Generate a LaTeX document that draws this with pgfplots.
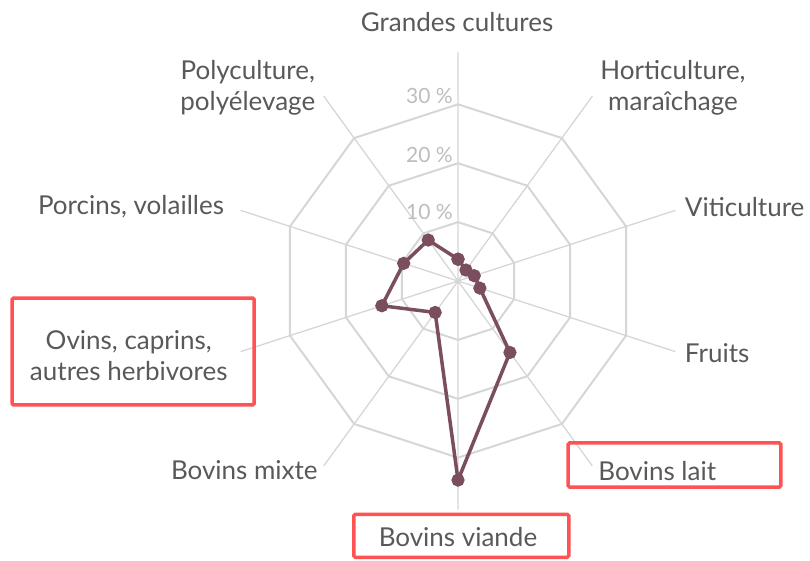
\documentclass[border=0pt]{standalone}
\usepackage{pgfplots}
\pgfplotsset{compat=1.18}
\usepackage{fontspec}
\setmainfont{Lato}
\definecolor{gridc}{HTML}{D6D6D6}
\definecolor{serc}{HTML}{7A4E5E}
\definecolor{labc}{HTML}{595959}
\definecolor{tickc}{HTML}{BDBDBD}
\definecolor{boxc}{HTML}{FF5252}
\begin{document}
\begin{tikzpicture}
\begin{axis}[
  x=5.89pt, y=5.89pt,
  xmin=-77.76, xmax=59.76, ymin=-47.37, ymax=47.71,
  hide axis, clip=false,
]
% spokes
\addplot[gridc, line width=1.3pt, data cs=polar] coordinates {
 (90,38.8) (0,0) (54,38.8) (0,0) (18,38.8) (0,0) (-18,38.8) (0,0) (-54,38.8) (0,0)
 (-90,38.8) (0,0) (-126,38.8) (0,0) (-162,38.8) (0,0) (162,38.8) (0,0) (126,38.8)};
% rings
\addplot[gridc, line width=2pt, data cs=polar] coordinates {
 (90,10) (54,10) (18,10) (-18,10) (-54,10) (-90,10) (-126,10) (-162,10) (162,10) (126,10) (90,10)};
\addplot[gridc, line width=2pt, data cs=polar] coordinates {
 (90,20) (54,20) (18,20) (-18,20) (-54,20) (-90,20) (-126,20) (-162,20) (162,20) (126,20) (90,20)};
\addplot[gridc, line width=2pt, data cs=polar] coordinates {
 (90,30) (54,30) (18,30) (-18,30) (-54,30) (-90,30) (-126,30) (-162,30) (162,30) (126,30) (90,30)};
% data
\addplot[serc, line width=3.5pt, mark=*, mark size=4.8pt, data cs=polar] coordinates {
 (90,3.7) (54,2.3) (18,2.9) (-18,3.9) (-54,15.0) (-90,33.8) (-126,6.6) (-162,13.6) (162,9.7) (126,8.6) (90,3.7)};
% tick labels
\begin{scope}[every node/.style={font=\fontsize{21}{23}\selectfont, text=tickc, anchor=east, inner sep=0pt}]
\node at (axis cs:-0.85,11.7) {10 \%};
\node at (axis cs:-0.85,21.4) {20 \%};
\node at (axis cs:-0.85,31.4) {30 \%};
\end{scope}
% category labels
\begin{scope}[every node/.style={font=\fontsize{26}{31}\selectfont, text=labc, inner sep=0pt, align=center}]
\node at (axis cs:-0.17,43.97) {Grandes cultures};
\node at (axis cs:36.5,32.8) {Horticulture,\\maraîchage};
\node[anchor=west] at (axis cs:38.5,12.6) {Viticulture};
\node[anchor=west] at (axis cs:38.5,-12.2) {Fruits};
\node[anchor=west] at (axis cs:23.8,-32.3) {Bovins lait};
\node at (axis cs:0,-43.5) {Bovins viande};
\node[anchor=east] at (axis cs:-23.8,-32.1) {Bovins mixte};
\node at (axis cs:-55.9,-12.6) {Ovins, caprins,\\autres herbivores};
\node[anchor=east] at (axis cs:-39.7,12.6) {Porcins, volailles};
\node at (axis cs:-35.7,32.8) {Polyculture,\\polyélevage};
\end{scope}
% highlight boxes
\draw[boxc, line width=3.5pt, rounded corners=1.5pt] (axis cs:-75.7,-2.9) rectangle (axis cs:-34.6,-21.05);
\draw[boxc, line width=3.5pt, rounded corners=1.5pt] (axis cs:18.7,-27.5) rectangle (axis cs:54.8,-35.0);
\draw[boxc, line width=3.5pt, rounded corners=1.5pt] (axis cs:-17.7,-39.6) rectangle (axis cs:18.8,-46.9);
\end{axis}
\pgfresetboundingbox
\useasboundingbox (current axis.south west) rectangle (current axis.north east);
\end{tikzpicture}
\end{document}
